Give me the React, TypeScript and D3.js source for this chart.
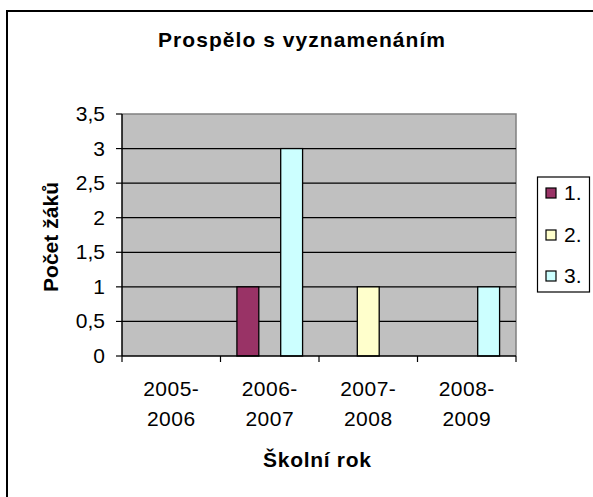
import React from "react";
import * as d3 from "d3";

const categories = ["2005-2006", "2006-2007", "2007-2008", "2008-2009"];
const seriesNames = ["1.", "2.", "3."];
const series1 = [0, 1, 0, 0];
const series2 = [0, 0, 1, 0];
const series3 = [0, 3, 0, 1];
const yTicks = [0, 0.5, 1, 1.5, 2, 2.5, 3, 3.5];
const colors = ["#993366", "#FFFFCC", "#CCFFFF"];

const W = 593;
const H = 497;
const plot = { left: 122, right: 516, top: 114, bottom: 356 };
const FONT = "'Liberation Sans', Arial, sans-serif";

export default function App() {
  const allSeries = [series1, series2, series3];
  const x0 = d3.scaleBand<string>().domain(categories).range([plot.left, plot.right]).padding(0);
  const x1 = d3
    .scaleBand<string>()
    .domain(seriesNames)
    .range([0, x0.bandwidth()])
    .paddingInner(0)
    .paddingOuter(0.75);
  const y = d3.scaleLinear().domain([0, 3.5]).range([plot.bottom, plot.top]);
  const fmt = (v: number) => String(v).replace(".", ",");
  const boundaries = [...categories.map((c) => x0(c) as number), plot.right];

  return (
    <svg
      width={W}
      height={H}
      style={{ position: "absolute", left: 0, top: 0, background: "#fff" }}
      fontFamily={FONT}
    >
      <rect x={7} y={11} width={W + 20} height={H + 20} fill="#fff" stroke="#000" strokeWidth={2} />
      <text x={301.5} y={47} textAnchor="middle" fontWeight="bold" fontSize={21} textLength={287} lengthAdjust="spacing">
        Prospělo s vyznamenáním
      </text>

      {/* plot area */}
      <rect x={plot.left} y={plot.top} width={plot.right - plot.left} height={plot.bottom - plot.top} fill="#C0C0C0" />
      <polyline
        points={`${plot.left},${plot.top} ${plot.right},${plot.top} ${plot.right},${plot.bottom}`}
        fill="none"
        stroke="#808080"
        strokeWidth={1.5}
      />
      {yTicks.filter((t) => t > 0 && t < 3.5).map((t) => (
        <line key={t} x1={plot.left} x2={plot.right} y1={y(t)} y2={y(t)} stroke="#000" strokeWidth={1.2} />
      ))}

      {/* bars */}
      {categories.map((c, ci) =>
        allSeries.map((s, si) =>
          s[ci] > 0 ? (
            <rect
              key={`${ci}-${si}`}
              x={(x0(c) as number) + (x1(seriesNames[si]) as number)}
              y={y(s[ci])}
              width={x1.bandwidth()}
              height={y(0) - y(s[ci])}
              fill={colors[si]}
              stroke="#000"
              strokeWidth={1.3}
            />
          ) : null
        )
      )}

      {/* y axis */}
      <line x1={plot.left} x2={plot.left} y1={plot.top} y2={plot.bottom} stroke="#000" strokeWidth={1.5} />
      {yTicks.map((t) => (
        <g key={t}>
          <line x1={plot.left - 6} x2={plot.left} y1={y(t)} y2={y(t)} stroke="#000" strokeWidth={1.2} />
          <text x={105} y={y(t) + 7} textAnchor="end" fontSize={21}>
            {fmt(t)}
          </text>
        </g>
      ))}

      {/* x axis */}
      <line x1={plot.left} x2={plot.right} y1={plot.bottom} y2={plot.bottom} stroke="#000" strokeWidth={1.5} />
      {boundaries.map((b, i) => (
        <line key={i} x1={b} x2={b} y1={plot.bottom} y2={plot.bottom + 6} stroke="#000" strokeWidth={1.2} />
      ))}
      {categories.map((c) => {
        const [a, b] = c.split("-");
        const cx = (x0(c) as number) + x0.bandwidth() / 2;
        return (
          <text key={c} x={cx} textAnchor="middle" fontSize={21} letterSpacing={0.5}>
            <tspan x={cx} y={396}>{a + "-"}</tspan>
            <tspan x={cx} y={426}>{b}</tspan>
          </text>
        );
      })}

      <text x={317} y={467} textAnchor="middle" fontWeight="bold" fontSize={21} textLength={108} lengthAdjust="spacing">
        Školní rok
      </text>
      <text
        transform="translate(58,237) rotate(-90)"
        textAnchor="middle"
        fontWeight="bold"
        fontSize={21}
        textLength={110}
        lengthAdjust="spacing"
      >
        Počet žáků
      </text>

      {/* legend */}
      <rect x={537.5} y={177} width={52} height={115} fill="#fff" stroke="#000" strokeWidth={1.2} />
      {seriesNames.map((n, i) => {
        const cy = [193, 235, 276][i];
        return (
          <g key={n}>
            <rect x={546} y={cy - 5} width={10} height={10} fill={colors[i]} stroke="#000" strokeWidth={1.2} />
            <text x={564} y={cy + 7} fontSize={21}>
              {n}
            </text>
          </g>
        );
      })}
    </svg>
  );
}
